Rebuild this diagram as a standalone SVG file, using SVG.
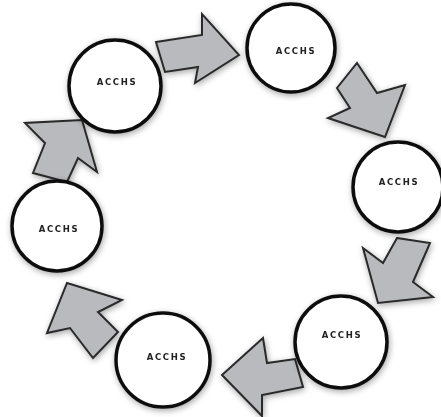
<svg xmlns="http://www.w3.org/2000/svg" width="441" height="417" viewBox="0 0 441 417">
<defs>
<filter id="sh" x="-30%" y="-30%" width="160%" height="160%">
<feGaussianBlur in="SourceAlpha" stdDeviation="3"/>
<feOffset dx="1" dy="2" result="b"/>
<feComponentTransfer><feFuncA type="linear" slope="0.35"/></feComponentTransfer>
<feMerge><feMergeNode/><feMergeNode in="SourceGraphic"/></feMerge>
</filter>
<style>
.arr{fill:#b9babd;stroke:#2a2a2a;stroke-width:2;stroke-linejoin:miter}
.node circle{fill:#fff;stroke:#111;stroke-width:3.5}
.node text{font-family:"DejaVu Sans","Liberation Sans",sans-serif;font-weight:bold;font-size:8.5px;letter-spacing:1.6px;fill:#222;text-anchor:middle}
</style>
</defs>
<rect width="441" height="417" fill="#fff"/>
<g id="connectors" filter="url(#sh)">
<polygon class="arr" points="156,42 202,35 202,14 239,55 195,83 198,67 165,72"/>
<polygon class="arr" points="357,63 377,93 405,85 385,137 328,118 350,108 337,88"/>
<polygon class="arr" points="397,238 430,243 413,282 433,297 378,303 363,248 383,263"/>
<polygon class="arr" points="295,359 303,387 262,395 262,416 222,375 263,338 267,363"/>
<polygon class="arr" points="118,332 93,358 70,328 47,333 67,283 122,300 98,312"/>
<polygon class="arr" points="67,182 33,173 45,143 25,123 82,120 97,172 78,158"/>
</g>
<g id="node1" class="node" filter="url(#sh)"><circle cx="115" cy="86" r="46"/><text x="117" y="85">ACCHS</text></g>
<g id="node2" class="node" filter="url(#sh)"><circle cx="291" cy="48" r="44"/><text x="296" y="54">ACCHS</text></g>
<g id="node3" class="node" filter="url(#sh)"><circle cx="398" cy="187" r="45"/><text x="399" y="185">ACCHS</text></g>
<g id="node4" class="node" filter="url(#sh)"><circle cx="341" cy="342" r="46"/><text x="342" y="338">ACCHS</text></g>
<g id="node5" class="node" filter="url(#sh)"><circle cx="163" cy="360" r="47"/><text x="167" y="360">ACCHS</text></g>
<g id="node6" class="node" filter="url(#sh)"><circle cx="57" cy="226" r="45"/><text x="59" y="232">ACCHS</text></g>
</svg>
